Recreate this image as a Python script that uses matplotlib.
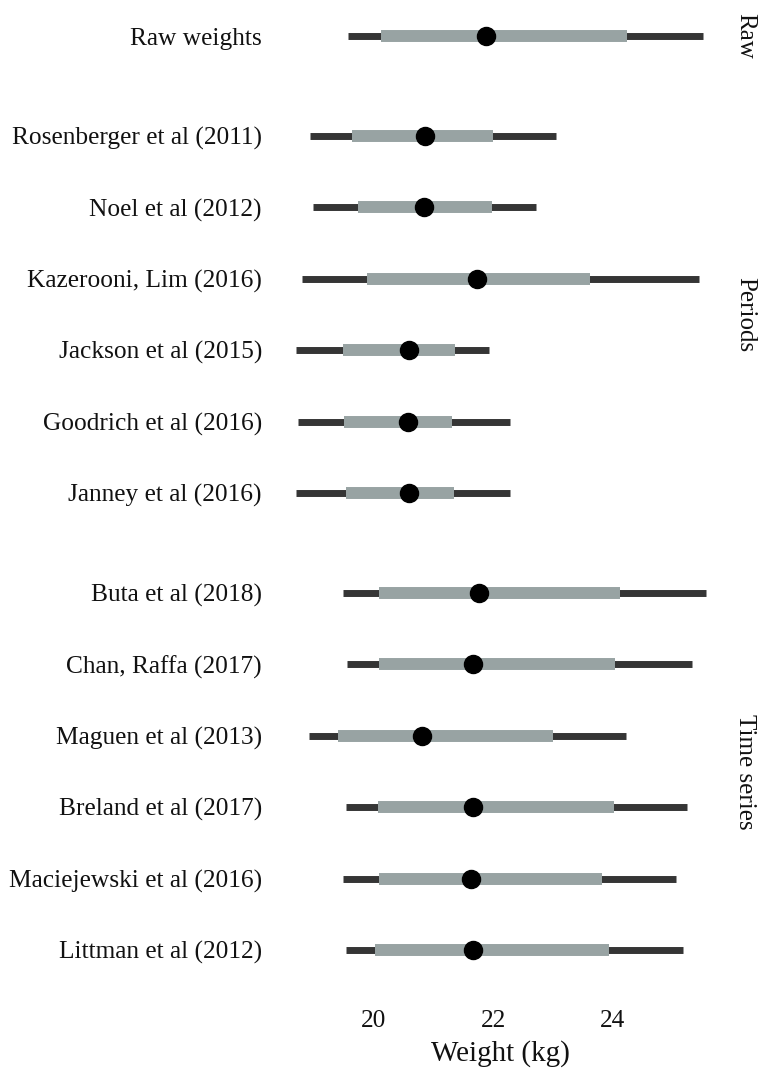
import matplotlib
matplotlib.use("Agg")
import matplotlib.pyplot as plt

plt.rcParams["font.family"] = ["Liberation Serif", "DejaVu Serif"]

# Study labels grouped by facet
raw_labels = ["Raw weights"]
period_labels = ["Rosenberger et al (2011)", "Noel et al (2012)", "Kazerooni, Lim (2016)",
                 "Jackson et al (2015)", "Goodrich et al (2016)", "Janney et al (2016)"]
ts_labels = ["Buta et al (2018)", "Chan, Raffa (2017)", "Maguen et al (2013)",
             "Breland et al (2017)", "Maciejewski et al (2016)", "Littman et al (2012)"]

# Point estimates (kg)
raw_mid = [21.87]
period_mid = [20.86, 20.84, 21.73, 20.58, 20.57, 20.59]
ts_mid = [21.75, 21.65, 20.80, 21.65, 21.62, 21.65]

# Inner (50%) interval
raw_lo50 = [20.11]
raw_hi50 = [24.23]
period_lo50 = [19.63, 19.73, 19.89, 19.48, 19.49, 19.53]
period_hi50 = [21.99, 21.97, 23.62, 21.36, 21.31, 21.34]
ts_lo50 = [20.08, 20.08, 19.39, 20.06, 20.09, 20.02]
ts_hi50 = [24.12, 24.03, 22.99, 24.02, 23.82, 23.94]

# Outer (95%) interval
raw_lo95 = [19.57]
raw_hi95 = [25.50]
period_lo95 = [18.93, 18.98, 18.79, 18.69, 18.72, 18.69]
period_hi95 = [23.05, 22.71, 25.44, 21.92, 22.28, 22.28]
ts_lo95 = [19.48, 19.54, 18.92, 19.53, 19.48, 19.53]
ts_hi95 = [25.55, 25.32, 24.21, 25.24, 25.06, 25.18]

facets = [
    ("Raw", raw_labels, raw_mid, raw_lo50, raw_hi50, raw_lo95, raw_hi95),
    ("Periods", period_labels, period_mid, period_lo50, period_hi50, period_lo95, period_hi95),
    ("Time series", ts_labels, ts_mid, ts_lo50, ts_hi50, ts_lo95, ts_hi95),
]

W, H = 762, 1068
fig = plt.figure(figsize=(W / 100, H / 100), dpi=100)

unit = 71.4       # pixels per category row
spacing = 14.3    # gap between facet panels (px)
top_px = -6.8
left_px, right_px = 280, 720
xlim = (18.427, 25.791)

dark = "#353535"
grey = "#98A3A3"
txt = "#111111"

axes = []
y_cursor = top_px
for name, labels, mid, lo50, hi50, lo95, hi95 in facets:
    n = len(labels)
    h_px = (n - 1 + 1.2) * unit
    ax = fig.add_axes([left_px / W, 1 - (y_cursor + h_px) / H,
                       (right_px - left_px) / W, h_px / H])
    y_cursor += h_px + spacing
    ys = list(range(n))
    ax.hlines(ys, lo95, hi95, colors=dark, lw=5.0, capstyle="butt", zorder=1)
    ax.hlines(ys, lo50, hi50, colors=grey, lw=8.6, capstyle="butt", zorder=2)
    ax.plot(mid, ys, "o", color="black", ms=13, zorder=3)
    ax.set_xlim(*xlim)
    ax.set_ylim(n - 1 + 0.6, -0.6)
    ax.set_yticks(ys)
    ax.set_yticklabels(labels, fontsize=18.3, color=txt)
    ax.tick_params(axis="y", length=0, pad=13)
    ax.set_xticks([20, 22, 24])
    ax.tick_params(axis="x", length=0, pad=12, labelsize=18.3, labelcolor=txt)
    for s in ax.spines.values():
        s.set_visible(False)
    ax.patch.set_visible(False)
    ax.text(1.0 + (745 - right_px) / (right_px - left_px), 0.5, name,
            transform=ax.transAxes, rotation=-90, ha="center", va="center",
            fontsize=18, color=txt)
    axes.append(ax)

for ax in axes[:-1]:
    ax.tick_params(axis="x", labelbottom=False)

axes[-1].set_xlabel("Weight (kg)", fontsize=21, labelpad=6, color=txt)

fig.savefig("out.png", dpi=100)
